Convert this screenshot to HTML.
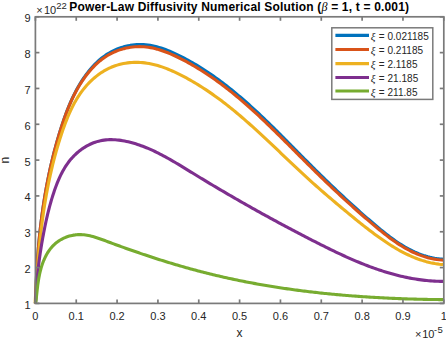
<!DOCTYPE html>
<html><head><meta charset="utf-8"><style>
html,body{margin:0;padding:0;background:#fff;}
body{width:446px;height:339px;overflow:hidden;}
svg{display:block;}
text{font-family:"Liberation Sans",sans-serif;fill:#262626;}
.tk text{font-size:11px;}
.lt{font-size:10px;}
.xi{font-family:"Liberation Serif",serif;font-style:italic;font-size:11px;}
</style></head><body>
<svg width="446" height="339" viewBox="0 0 446 339">
<rect x="0" y="0" width="446" height="339" fill="#fff"/>
<g fill="none" stroke-width="3.1" stroke-linejoin="round" stroke-linecap="butt">
<path d="M35.40,303.40 L35.60,301.16 L35.66,298.88 L35.72,296.60 L35.78,294.32 L35.85,292.05 L35.93,289.77 L36.01,287.49 L36.10,285.21 L36.20,282.93 L36.29,280.66 L36.40,278.38 L36.51,276.10 L36.63,273.83 L36.75,271.55 L36.88,269.27 L37.01,267.00 L37.16,264.72 L37.30,262.45 L37.46,260.18 L37.62,257.90 L37.78,255.63 L37.96,253.36 L38.14,251.09 L38.33,248.82 L38.52,246.55 L38.72,244.28 L38.93,242.02 L39.15,239.75 L39.37,237.48 L39.60,235.22 L39.84,232.96 L40.08,230.69 L40.34,228.43 L40.60,226.17 L40.87,223.91 L41.14,221.65 L41.43,219.40 L41.72,217.14 L42.02,214.89 L42.33,212.63 L42.64,210.38 L42.97,208.13 L43.30,205.88 L43.64,203.64 L44.00,201.39 L44.35,199.15 L44.72,196.91 L45.10,194.67 L45.49,192.43 L45.88,190.19 L46.28,187.95 L46.70,185.72 L47.12,183.49 L47.55,181.26 L47.99,179.03 L48.44,176.80 L48.90,174.58 L49.37,172.36 L49.85,170.14 L50.34,167.92 L50.84,165.70 L51.35,163.49 L51.87,161.27 L52.40,159.06 L52.94,156.86 L53.49,154.65 L54.05,152.45 L54.63,150.25 L55.21,148.05 L55.80,145.85 L56.40,143.66 L57.02,141.47 L57.64,139.28 L58.28,137.10 L58.93,134.91 L59.59,132.73 L60.26,130.56 L60.94,128.38 L61.63,126.21 L62.34,124.04 L63.06,121.88 L63.79,119.72 L64.54,117.56 L65.31,115.41 L66.10,113.27 L66.90,111.14 L67.73,109.01 L68.58,106.89 L69.45,104.78 L70.35,102.68 L71.27,100.59 L72.22,98.51 L73.20,96.45 L74.20,94.39 L75.24,92.35 L76.30,90.32 L77.40,88.31 L78.53,86.31 L79.70,84.32 L80.90,82.35 L82.14,80.40 L83.42,78.47 L84.73,76.56 L86.09,74.68 L87.48,72.84 L88.90,71.02 L90.37,69.24 L91.88,67.50 L93.42,65.80 L95.01,64.15 L96.64,62.55 L98.31,61.00 L100.02,59.51 L101.77,58.07 L103.56,56.70 L105.40,55.39 L107.27,54.15 L109.20,52.98 L111.16,51.88 L113.16,50.86 L115.19,49.91 L117.26,49.04 L119.35,48.24 L121.48,47.51 L123.62,46.87 L125.79,46.30 L127.98,45.81 L130.18,45.40 L132.39,45.07 L134.61,44.82 L136.84,44.65 L139.07,44.57 L141.30,44.56 L143.53,44.64 L145.76,44.81 L147.97,45.06 L150.19,45.39 L152.39,45.79 L154.59,46.26 L156.77,46.80 L158.95,47.41 L161.12,48.07 L163.28,48.79 L165.44,49.56 L167.58,50.38 L169.71,51.25 L171.82,52.15 L173.93,53.09 L176.03,54.07 L178.11,55.07 L180.18,56.09 L182.24,57.14 L184.28,58.21 L186.31,59.29 L188.32,60.39 L190.33,61.50 L192.32,62.64 L194.30,63.79 L196.26,64.95 L198.22,66.13 L200.16,67.33 L202.09,68.54 L204.01,69.77 L205.92,71.01 L207.81,72.27 L209.70,73.54 L211.58,74.83 L213.44,76.13 L215.29,77.44 L217.14,78.76 L218.97,80.10 L220.80,81.45 L222.62,82.81 L224.42,84.19 L226.22,85.57 L228.01,86.97 L229.79,88.38 L231.56,89.80 L233.32,91.23 L235.08,92.67 L236.83,94.12 L238.57,95.58 L240.30,97.05 L242.02,98.53 L243.74,100.01 L245.46,101.51 L247.16,103.01 L248.86,104.53 L250.55,106.04 L252.24,107.57 L253.92,109.11 L255.60,110.65 L257.27,112.20 L258.93,113.75 L260.59,115.31 L262.25,116.88 L263.90,118.45 L265.55,120.03 L267.19,121.61 L268.83,123.19 L270.46,124.79 L272.09,126.38 L273.72,127.98 L275.35,129.58 L276.97,131.19 L278.59,132.80 L280.21,134.41 L281.82,136.02 L283.43,137.64 L285.05,139.26 L286.66,140.88 L288.26,142.50 L289.87,144.12 L291.48,145.74 L293.08,147.37 L294.69,148.99 L296.29,150.61 L297.89,152.23 L299.50,153.86 L301.10,155.48 L302.71,157.10 L304.31,158.72 L305.92,160.33 L307.52,161.95 L309.13,163.56 L310.74,165.17 L312.35,166.78 L313.97,168.38 L315.58,169.99 L317.20,171.58 L318.82,173.18 L320.44,174.77 L322.06,176.36 L323.68,177.95 L325.31,179.54 L326.94,181.12 L328.57,182.70 L330.21,184.27 L331.85,185.84 L333.49,187.41 L335.13,188.98 L336.78,190.54 L338.43,192.10 L340.08,193.65 L341.74,195.20 L343.40,196.75 L345.06,198.30 L346.73,199.84 L348.40,201.38 L350.08,202.91 L351.76,204.44 L353.44,205.97 L355.13,207.49 L356.82,209.01 L358.52,210.53 L360.22,212.04 L361.92,213.55 L363.63,215.05 L365.35,216.56 L367.07,218.05 L368.79,219.54 L370.52,221.03 L372.26,222.52 L374.00,224.00 L375.75,225.47 L377.50,226.94 L379.26,228.41 L381.02,229.86 L382.80,231.30 L384.58,232.73 L386.38,234.15 L388.18,235.54 L390.00,236.92 L391.83,238.27 L393.67,239.60 L395.53,240.91 L397.40,242.19 L399.29,243.44 L401.19,244.65 L403.12,245.84 L405.06,246.98 L407.02,248.09 L408.99,249.16 L411.00,250.19 L413.02,251.18 L415.06,252.12 L417.13,253.01 L419.22,253.85 L421.34,254.64 L423.48,255.37 L425.65,256.05 L427.85,256.67 L430.07,257.24 L432.33,257.74 L434.61,258.17 L436.92,258.54 L439.27,258.85 L441.65,259.08 L443.80,259.30" stroke="#0072BD" />
<path d="M35.40,303.40 L35.59,301.18 L35.65,298.91 L35.71,296.63 L35.78,294.36 L35.85,292.09 L35.93,289.81 L36.01,287.54 L36.10,285.27 L36.19,283.00 L36.29,280.72 L36.40,278.45 L36.51,276.18 L36.63,273.91 L36.75,271.64 L36.88,269.38 L37.01,267.11 L37.15,264.84 L37.30,262.57 L37.45,260.31 L37.61,258.04 L37.78,255.78 L37.95,253.51 L38.13,251.25 L38.32,248.99 L38.51,246.73 L38.71,244.47 L38.92,242.21 L39.13,239.95 L39.36,237.69 L39.58,235.44 L39.82,233.18 L40.06,230.93 L40.32,228.67 L40.57,226.42 L40.84,224.17 L41.12,221.92 L41.40,219.67 L41.69,217.43 L41.99,215.18 L42.29,212.94 L42.61,210.69 L42.93,208.45 L43.26,206.21 L43.60,203.97 L43.95,201.73 L44.31,199.50 L44.67,197.27 L45.05,195.03 L45.43,192.80 L45.83,190.57 L46.23,188.34 L46.64,186.12 L47.06,183.89 L47.49,181.67 L47.93,179.45 L48.38,177.23 L48.83,175.02 L49.30,172.80 L49.78,170.59 L50.27,168.38 L50.77,166.17 L51.27,163.96 L51.79,161.76 L52.32,159.55 L52.86,157.35 L53.40,155.15 L53.96,152.96 L54.53,150.76 L55.11,148.57 L55.70,146.38 L56.31,144.19 L56.92,142.01 L57.54,139.82 L58.18,137.64 L58.82,135.46 L59.48,133.29 L60.15,131.12 L60.83,128.94 L61.52,126.78 L62.22,124.61 L62.94,122.45 L63.67,120.29 L64.42,118.14 L65.19,116.00 L65.97,113.86 L66.78,111.73 L67.61,109.61 L68.46,107.50 L69.33,105.39 L70.23,103.30 L71.15,101.22 L72.10,99.15 L73.08,97.09 L74.09,95.05 L75.13,93.02 L76.21,91.00 L77.31,89.00 L78.45,87.02 L79.63,85.06 L80.85,83.11 L82.10,81.18 L83.39,79.27 L84.72,77.39 L86.08,75.54 L87.49,73.72 L88.94,71.93 L90.42,70.18 L91.95,68.48 L93.51,66.82 L95.12,65.20 L96.77,63.64 L98.45,62.13 L100.18,60.68 L101.95,59.28 L103.76,57.95 L105.62,56.69 L107.51,55.50 L109.45,54.38 L111.43,53.33 L113.44,52.36 L115.49,51.46 L117.57,50.64 L119.67,49.89 L121.80,49.22 L123.96,48.62 L126.13,48.10 L128.32,47.66 L130.53,47.30 L132.74,47.02 L134.96,46.81 L137.19,46.69 L139.42,46.64 L141.65,46.68 L143.88,46.80 L146.10,47.00 L148.31,47.28 L150.52,47.64 L152.71,48.07 L154.90,48.57 L157.08,49.13 L159.25,49.75 L161.41,50.43 L163.56,51.17 L165.70,51.95 L167.83,52.78 L169.95,53.66 L172.06,54.57 L174.16,55.52 L176.24,56.49 L178.31,57.50 L180.37,58.53 L182.42,59.58 L184.45,60.64 L186.47,61.73 L188.47,62.83 L190.47,63.94 L192.45,65.08 L194.42,66.23 L196.38,67.39 L198.32,68.57 L200.26,69.77 L202.18,70.98 L204.09,72.21 L205.99,73.45 L207.88,74.70 L209.76,75.97 L211.63,77.25 L213.49,78.54 L215.33,79.85 L217.17,81.17 L219.00,82.51 L220.82,83.85 L222.63,85.21 L224.43,86.58 L226.22,87.96 L228.01,89.35 L229.78,90.75 L231.55,92.16 L233.31,93.59 L235.06,95.02 L236.81,96.46 L238.54,97.92 L240.27,99.38 L241.99,100.85 L243.71,102.33 L245.42,103.81 L247.12,105.31 L248.82,106.81 L250.51,108.32 L252.19,109.84 L253.87,111.37 L255.55,112.90 L257.22,114.44 L258.88,115.98 L260.54,117.53 L262.19,119.09 L263.84,120.65 L265.49,122.21 L267.13,123.79 L268.77,125.36 L270.40,126.94 L272.04,128.53 L273.66,130.11 L275.29,131.70 L276.91,133.30 L278.53,134.90 L280.15,136.50 L281.77,138.10 L283.38,139.70 L284.99,141.31 L286.60,142.91 L288.21,144.52 L289.82,146.13 L291.43,147.74 L293.03,149.35 L294.64,150.96 L296.25,152.57 L297.85,154.18 L299.46,155.79 L301.06,157.40 L302.67,159.01 L304.28,160.62 L305.88,162.22 L307.49,163.82 L309.10,165.42 L310.72,167.02 L312.33,168.61 L313.94,170.20 L315.56,171.79 L317.18,173.38 L318.80,174.96 L320.43,176.54 L322.05,178.12 L323.68,179.69 L325.31,181.26 L326.94,182.83 L328.58,184.40 L330.22,185.96 L331.86,187.52 L333.50,189.07 L335.15,190.62 L336.80,192.17 L338.45,193.72 L340.11,195.26 L341.77,196.80 L343.43,198.34 L345.10,199.87 L346.77,201.40 L348.44,202.92 L350.12,204.44 L351.80,205.96 L353.49,207.47 L355.18,208.98 L356.87,210.49 L358.57,211.99 L360.27,213.49 L361.98,214.99 L363.69,216.48 L365.41,217.96 L367.13,219.45 L368.86,220.93 L370.59,222.40 L372.33,223.87 L374.07,225.34 L375.82,226.80 L377.57,228.26 L379.33,229.71 L381.10,231.15 L382.87,232.58 L384.66,233.99 L386.45,235.39 L388.26,236.78 L390.08,238.14 L391.91,239.48 L393.75,240.80 L395.61,242.09 L397.48,243.35 L399.37,244.59 L401.27,245.79 L403.19,246.96 L405.13,248.10 L407.09,249.19 L409.07,250.25 L411.06,251.27 L413.08,252.24 L415.13,253.16 L417.19,254.04 L419.28,254.87 L421.39,255.65 L423.53,256.37 L425.70,257.04 L427.89,257.65 L430.11,258.20 L432.36,258.69 L434.63,259.12 L436.94,259.48 L439.28,259.77 L441.65,260.00 L443.80,260.20" stroke="#D95319" />
<path d="M35.40,303.40 L35.20,301.31 L35.34,299.09 L35.48,296.86 L35.62,294.64 L35.76,292.42 L35.90,290.20 L36.05,287.98 L36.19,285.77 L36.34,283.55 L36.49,281.34 L36.65,279.13 L36.81,276.92 L36.97,274.71 L37.13,272.51 L37.30,270.30 L37.47,268.10 L37.64,265.90 L37.82,263.70 L38.00,261.50 L38.19,259.31 L38.38,257.11 L38.57,254.92 L38.77,252.73 L38.98,250.54 L39.19,248.35 L39.40,246.16 L39.62,243.98 L39.84,241.79 L40.07,239.61 L40.31,237.43 L40.55,235.25 L40.80,233.07 L41.05,230.89 L41.31,228.72 L41.58,226.54 L41.85,224.37 L42.13,222.20 L42.42,220.03 L42.72,217.86 L43.02,215.69 L43.33,213.52 L43.64,211.36 L43.97,209.19 L44.30,207.03 L44.64,204.87 L44.99,202.70 L45.35,200.55 L45.71,198.39 L46.09,196.23 L46.47,194.07 L46.87,191.92 L47.27,189.76 L47.68,187.61 L48.10,185.46 L48.53,183.31 L48.97,181.16 L49.42,179.01 L49.88,176.86 L50.35,174.72 L50.84,172.57 L51.33,170.43 L51.83,168.28 L52.35,166.14 L52.87,164.00 L53.41,161.86 L53.96,159.72 L54.52,157.58 L55.09,155.44 L55.67,153.30 L56.27,151.17 L56.87,149.03 L57.49,146.90 L58.13,144.76 L58.77,142.63 L59.43,140.50 L60.10,138.37 L60.79,136.24 L61.49,134.11 L62.20,131.98 L62.92,129.85 L63.67,127.73 L64.43,125.61 L65.21,123.50 L66.01,121.40 L66.83,119.31 L67.68,117.22 L68.55,115.16 L69.45,113.10 L70.37,111.06 L71.33,109.04 L72.31,107.04 L73.33,105.06 L74.37,103.10 L75.46,101.17 L76.58,99.26 L77.74,97.38 L78.93,95.52 L80.17,93.70 L81.45,91.90 L82.77,90.14 L84.13,88.41 L85.54,86.72 L86.99,85.07 L88.48,83.46 L90.01,81.90 L91.58,80.38 L93.19,78.90 L94.83,77.48 L96.52,76.11 L98.24,74.79 L99.99,73.53 L101.78,72.33 L103.60,71.20 L105.45,70.12 L107.34,69.11 L109.25,68.17 L111.20,67.30 L113.17,66.50 L115.17,65.77 L117.19,65.12 L119.24,64.53 L121.31,64.02 L123.40,63.57 L125.50,63.20 L127.62,62.89 L129.75,62.66 L131.89,62.49 L134.04,62.38 L136.20,62.35 L138.36,62.38 L140.52,62.48 L142.69,62.64 L144.85,62.87 L147.01,63.17 L149.16,63.52 L151.30,63.94 L153.44,64.42 L155.57,64.96 L157.70,65.55 L159.81,66.19 L161.92,66.88 L164.02,67.61 L166.11,68.39 L168.18,69.21 L170.25,70.07 L172.31,70.96 L174.35,71.88 L176.39,72.83 L178.41,73.81 L180.42,74.82 L182.42,75.84 L184.40,76.88 L186.37,77.95 L188.33,79.02 L190.27,80.11 L192.20,81.22 L194.12,82.35 L196.03,83.49 L197.93,84.64 L199.81,85.81 L201.68,86.99 L203.54,88.19 L205.39,89.40 L207.23,90.62 L209.06,91.86 L210.88,93.11 L212.68,94.37 L214.48,95.65 L216.27,96.93 L218.05,98.23 L219.82,99.54 L221.58,100.86 L223.33,102.19 L225.08,103.54 L226.81,104.89 L228.54,106.25 L230.26,107.62 L231.97,109.00 L233.68,110.39 L235.38,111.79 L237.07,113.20 L238.75,114.61 L240.43,116.04 L242.10,117.47 L243.77,118.90 L245.43,120.35 L247.08,121.80 L248.74,123.26 L250.38,124.72 L252.02,126.19 L253.66,127.66 L255.29,129.14 L256.92,130.62 L258.54,132.11 L260.16,133.61 L261.78,135.10 L263.39,136.60 L265.01,138.11 L266.62,139.61 L268.22,141.12 L269.83,142.64 L271.43,144.15 L273.03,145.67 L274.63,147.18 L276.23,148.70 L277.83,150.22 L279.42,151.74 L281.02,153.26 L282.62,154.79 L284.21,156.31 L285.81,157.83 L287.41,159.35 L289.01,160.86 L290.60,162.38 L292.20,163.90 L293.81,165.41 L295.41,166.92 L297.01,168.43 L298.62,169.93 L300.23,171.44 L301.84,172.94 L303.46,174.43 L305.07,175.92 L306.70,177.41 L308.32,178.89 L309.95,180.37 L311.58,181.84 L313.22,183.31 L314.86,184.77 L316.50,186.23 L318.15,187.68 L319.80,189.13 L321.45,190.58 L323.11,192.02 L324.77,193.46 L326.43,194.89 L328.10,196.33 L329.77,197.76 L331.44,199.18 L333.12,200.61 L334.80,202.03 L336.48,203.45 L338.17,204.87 L339.85,206.28 L341.54,207.70 L343.24,209.11 L344.93,210.52 L346.63,211.93 L348.33,213.34 L350.03,214.74 L351.74,216.14 L353.45,217.54 L355.17,218.94 L356.88,220.33 L358.61,221.72 L360.33,223.10 L362.07,224.48 L363.80,225.85 L365.55,227.21 L367.30,228.57 L369.05,229.92 L370.81,231.25 L372.58,232.59 L374.35,233.91 L376.13,235.22 L377.92,236.52 L379.72,237.81 L381.52,239.08 L383.34,240.34 L385.16,241.59 L386.99,242.81 L388.83,244.02 L390.69,245.21 L392.55,246.38 L394.42,247.52 L396.31,248.64 L398.21,249.73 L400.12,250.80 L402.04,251.84 L403.98,252.85 L405.93,253.83 L407.89,254.77 L409.87,255.69 L411.87,256.56 L413.88,257.41 L415.90,258.21 L417.94,258.98 L420.00,259.70 L422.08,260.39 L424.17,261.03 L426.28,261.63 L428.41,262.18 L430.56,262.69 L432.73,263.14 L434.92,263.55 L437.12,263.91 L439.35,264.22 L441.60,264.47 L443.80,264.30" stroke="#EDB120" />
<path d="M35.40,303.40 L35.53,301.55 L35.62,299.66 L35.71,297.78 L35.81,295.89 L35.92,294.00 L36.04,292.12 L36.17,290.24 L36.30,288.35 L36.44,286.47 L36.59,284.59 L36.75,282.72 L36.91,280.84 L37.08,278.97 L37.26,277.09 L37.45,275.22 L37.65,273.35 L37.85,271.48 L38.06,269.61 L38.27,267.74 L38.50,265.88 L38.73,264.01 L38.97,262.15 L39.21,260.29 L39.47,258.43 L39.73,256.57 L39.99,254.71 L40.27,252.86 L40.55,251.00 L40.84,249.15 L41.13,247.30 L41.44,245.45 L41.74,243.60 L42.06,241.75 L42.38,239.91 L42.71,238.06 L43.05,236.22 L43.39,234.38 L43.74,232.54 L44.09,230.70 L44.46,228.86 L44.82,227.03 L45.20,225.19 L45.58,223.36 L45.98,221.53 L46.38,219.70 L46.79,217.87 L47.21,216.04 L47.64,214.22 L48.09,212.39 L48.54,210.57 L49.01,208.75 L49.49,206.93 L49.98,205.11 L50.48,203.29 L51.00,201.48 L51.53,199.66 L52.08,197.85 L52.65,196.04 L53.23,194.23 L53.82,192.42 L54.44,190.62 L55.07,188.81 L55.72,187.01 L56.39,185.22 L57.08,183.43 L57.80,181.65 L58.54,179.89 L59.31,178.14 L60.11,176.40 L60.94,174.68 L61.80,172.98 L62.69,171.31 L63.62,169.65 L64.58,168.02 L65.58,166.42 L66.62,164.84 L67.70,163.30 L68.82,161.79 L69.98,160.31 L71.19,158.87 L72.44,157.47 L73.73,156.11 L75.05,154.78 L76.42,153.51 L77.82,152.27 L79.25,151.09 L80.72,149.95 L82.22,148.86 L83.75,147.83 L85.31,146.85 L86.90,145.92 L88.52,145.05 L90.17,144.24 L91.84,143.49 L93.53,142.81 L95.24,142.18 L96.98,141.63 L98.74,141.14 L100.51,140.72 L102.31,140.37 L104.11,140.10 L105.94,139.89 L107.77,139.75 L109.62,139.67 L111.48,139.65 L113.34,139.70 L115.21,139.80 L117.09,139.95 L118.96,140.15 L120.84,140.41 L122.72,140.70 L124.59,141.05 L126.46,141.43 L128.32,141.85 L130.18,142.31 L132.02,142.80 L133.86,143.32 L135.68,143.86 L137.49,144.44 L139.28,145.04 L141.07,145.67 L142.84,146.32 L144.60,147.00 L146.35,147.70 L148.09,148.42 L149.82,149.16 L151.54,149.93 L153.26,150.71 L154.96,151.51 L156.65,152.33 L158.34,153.16 L160.02,154.01 L161.69,154.88 L163.35,155.76 L165.01,156.65 L166.67,157.56 L168.31,158.48 L169.95,159.41 L171.59,160.35 L173.22,161.29 L174.85,162.25 L176.47,163.21 L178.10,164.18 L179.71,165.16 L181.33,166.14 L182.94,167.12 L184.55,168.11 L186.16,169.09 L187.77,170.08 L189.38,171.07 L190.99,172.06 L192.60,173.05 L194.21,174.04 L195.82,175.02 L197.43,176.01 L199.04,176.99 L200.65,177.96 L202.26,178.94 L203.88,179.92 L205.49,180.89 L207.10,181.86 L208.72,182.83 L210.33,183.80 L211.95,184.76 L213.56,185.72 L215.18,186.68 L216.80,187.64 L218.42,188.60 L220.03,189.56 L221.65,190.51 L223.27,191.46 L224.90,192.41 L226.52,193.36 L228.14,194.31 L229.76,195.25 L231.39,196.20 L233.01,197.14 L234.64,198.08 L236.26,199.01 L237.89,199.95 L239.52,200.88 L241.15,201.81 L242.78,202.74 L244.41,203.67 L246.04,204.60 L247.67,205.52 L249.31,206.45 L250.94,207.37 L252.58,208.29 L254.21,209.20 L255.85,210.12 L257.49,211.04 L259.13,211.95 L260.77,212.86 L262.41,213.77 L264.05,214.67 L265.70,215.58 L267.34,216.48 L268.99,217.39 L270.63,218.29 L272.28,219.19 L273.93,220.08 L275.58,220.98 L277.23,221.87 L278.89,222.76 L280.54,223.66 L282.19,224.54 L283.85,225.43 L285.51,226.32 L287.17,227.20 L288.83,228.08 L290.49,228.96 L292.15,229.84 L293.81,230.72 L295.48,231.60 L297.14,232.47 L298.81,233.34 L300.48,234.21 L302.15,235.08 L303.82,235.95 L305.49,236.82 L307.17,237.68 L308.84,238.55 L310.52,239.41 L312.20,240.27 L313.88,241.13 L315.56,241.98 L317.24,242.84 L318.93,243.69 L320.61,244.54 L322.30,245.39 L323.99,246.23 L325.68,247.07 L327.38,247.91 L329.07,248.75 L330.77,249.57 L332.47,250.40 L334.17,251.22 L335.87,252.03 L337.58,252.84 L339.29,253.65 L341.00,254.45 L342.71,255.24 L344.42,256.03 L346.14,256.80 L347.86,257.58 L349.58,258.34 L351.31,259.10 L353.03,259.85 L354.76,260.59 L356.50,261.33 L358.23,262.05 L359.97,262.77 L361.71,263.47 L363.46,264.17 L365.20,264.86 L366.96,265.54 L368.71,266.21 L370.47,266.86 L372.23,267.51 L373.99,268.15 L375.76,268.77 L377.53,269.38 L379.30,269.98 L381.08,270.57 L382.86,271.15 L384.65,271.71 L386.43,272.26 L388.23,272.80 L390.02,273.32 L391.82,273.84 L393.63,274.33 L395.43,274.81 L397.24,275.28 L399.06,275.73 L400.88,276.17 L402.70,276.59 L404.53,277.00 L406.37,277.39 L408.20,277.76 L410.04,278.12 L411.89,278.46 L413.74,278.78 L415.59,279.09 L417.45,279.38 L419.32,279.65 L421.19,279.90 L423.06,280.14 L424.94,280.35 L426.82,280.55 L428.71,280.72 L430.60,280.88 L432.50,281.02 L434.41,281.14 L436.31,281.23 L438.23,281.31 L440.15,281.37 L442.07,281.40 L443.80,281.20" stroke="#7E2F8E" />
<path d="M35.40,303.40 L35.89,301.65 L36.05,300.30 L36.21,298.91 L36.37,297.50 L36.53,296.06 L36.69,294.59 L36.84,293.11 L37.01,291.60 L37.17,290.08 L37.35,288.54 L37.54,286.99 L37.73,285.43 L37.94,283.85 L38.17,282.27 L38.41,280.68 L38.67,279.08 L38.94,277.49 L39.25,275.89 L39.57,274.29 L39.92,272.69 L40.30,271.10 L40.71,269.52 L41.15,267.94 L41.62,266.38 L42.12,264.83 L42.65,263.29 L43.22,261.77 L43.82,260.28 L44.46,258.80 L45.13,257.36 L45.84,255.94 L46.58,254.55 L47.37,253.19 L48.19,251.87 L49.05,250.58 L49.95,249.34 L50.88,248.14 L51.87,246.98 L52.89,245.87 L53.95,244.81 L55.05,243.80 L56.20,242.84 L57.37,241.93 L58.59,241.08 L59.83,240.27 L61.11,239.52 L62.41,238.81 L63.74,238.17 L65.09,237.57 L66.47,237.03 L67.87,236.54 L69.28,236.10 L70.71,235.72 L72.16,235.40 L73.62,235.13 L75.09,234.91 L76.56,234.75 L78.05,234.65 L79.54,234.61 L81.03,234.62 L82.52,234.69 L84.01,234.81 L85.50,234.99 L86.99,235.22 L88.48,235.50 L89.97,235.81 L91.46,236.17 L92.94,236.56 L94.43,236.98 L95.92,237.44 L97.40,237.91 L98.89,238.41 L100.37,238.93 L101.85,239.46 L103.34,240.01 L104.82,240.56 L106.30,241.12 L107.79,241.68 L109.27,242.23 L110.75,242.78 L112.23,243.34 L113.71,243.88 L115.19,244.43 L116.67,244.97 L118.15,245.52 L119.63,246.06 L121.11,246.59 L122.59,247.13 L124.07,247.66 L125.55,248.19 L127.03,248.72 L128.50,249.24 L129.98,249.76 L131.46,250.28 L132.94,250.80 L134.41,251.31 L135.89,251.83 L137.37,252.34 L138.85,252.84 L140.33,253.35 L141.80,253.85 L143.28,254.35 L144.76,254.84 L146.24,255.34 L147.71,255.83 L149.19,256.32 L150.67,256.81 L152.15,257.29 L153.63,257.77 L155.10,258.25 L156.58,258.72 L158.06,259.20 L159.54,259.67 L161.02,260.13 L162.50,260.60 L163.98,261.06 L165.46,261.52 L166.94,261.98 L168.42,262.43 L169.90,262.88 L171.38,263.33 L172.87,263.77 L174.35,264.22 L175.83,264.65 L177.31,265.09 L178.80,265.53 L180.28,265.96 L181.77,266.38 L183.25,266.81 L184.74,267.23 L186.22,267.65 L187.71,268.07 L189.20,268.48 L190.69,268.89 L192.18,269.30 L193.66,269.70 L195.15,270.10 L196.65,270.50 L198.14,270.90 L199.63,271.29 L201.12,271.68 L202.62,272.07 L204.11,272.45 L205.61,272.83 L207.10,273.21 L208.60,273.58 L210.10,273.95 L211.60,274.32 L213.10,274.69 L214.60,275.05 L216.10,275.41 L217.60,275.76 L219.10,276.11 L220.61,276.46 L222.11,276.81 L223.62,277.15 L225.13,277.49 L226.64,277.83 L228.15,278.16 L229.66,278.49 L231.17,278.82 L232.68,279.14 L234.19,279.46 L235.70,279.78 L237.22,280.10 L238.73,280.41 L240.25,280.72 L241.77,281.02 L243.29,281.32 L244.80,281.62 L246.32,281.92 L247.84,282.22 L249.36,282.51 L250.89,282.80 L252.41,283.08 L253.93,283.36 L255.45,283.64 L256.98,283.92 L258.50,284.19 L260.03,284.46 L261.56,284.73 L263.08,285.00 L264.61,285.26 L266.14,285.52 L267.67,285.78 L269.20,286.03 L270.73,286.28 L272.26,286.53 L273.79,286.78 L275.32,287.02 L276.86,287.26 L278.39,287.50 L279.92,287.73 L281.46,287.96 L282.99,288.19 L284.53,288.42 L286.07,288.64 L287.60,288.86 L289.14,289.08 L290.68,289.30 L292.22,289.51 L293.75,289.72 L295.29,289.93 L296.83,290.14 L298.37,290.34 L299.91,290.54 L301.45,290.74 L302.99,290.94 L304.54,291.13 L306.08,291.32 L307.62,291.51 L309.16,291.69 L310.71,291.88 L312.25,292.06 L313.79,292.24 L315.34,292.41 L316.88,292.58 L318.43,292.76 L319.97,292.92 L321.52,293.09 L323.06,293.25 L324.61,293.42 L326.16,293.57 L327.70,293.73 L329.25,293.89 L330.80,294.04 L332.34,294.19 L333.89,294.33 L335.44,294.48 L336.98,294.62 L338.53,294.76 L340.08,294.90 L341.63,295.04 L343.18,295.17 L344.73,295.30 L346.27,295.43 L347.82,295.56 L349.37,295.68 L350.92,295.81 L352.47,295.93 L354.02,296.05 L355.57,296.16 L357.12,296.28 L358.67,296.39 L360.22,296.50 L361.76,296.61 L363.31,296.71 L364.86,296.82 L366.41,296.92 L367.96,297.02 L369.51,297.12 L371.06,297.21 L372.61,297.30 L374.16,297.40 L375.71,297.49 L377.26,297.57 L378.81,297.66 L380.35,297.74 L381.90,297.82 L383.45,297.90 L385.00,297.98 L386.55,298.06 L388.10,298.13 L389.64,298.20 L391.19,298.27 L392.74,298.34 L394.29,298.41 L395.83,298.47 L397.38,298.54 L398.93,298.60 L400.47,298.66 L402.02,298.72 L403.57,298.77 L405.11,298.83 L406.66,298.88 L408.20,298.93 L409.75,298.98 L411.29,299.02 L412.84,299.07 L414.38,299.11 L415.93,299.15 L417.47,299.19 L419.01,299.23 L420.56,299.27 L422.10,299.31 L423.64,299.34 L425.18,299.37 L426.72,299.40 L428.26,299.43 L429.80,299.46 L431.34,299.48 L432.88,299.51 L434.42,299.53 L435.96,299.55 L437.50,299.57 L439.04,299.59 L440.57,299.60 L442.11,299.62 L443.80,299.50" stroke="#77AC30" />
</g>
<g stroke="#7a7a7a" stroke-width="1.7" fill="none"><line x1="35.40" y1="303.4" x2="35.40" y2="299.4"/><line x1="35.40" y1="16.8" x2="35.40" y2="20.8"/><line x1="76.24" y1="303.4" x2="76.24" y2="299.4"/><line x1="76.24" y1="16.8" x2="76.24" y2="20.8"/><line x1="117.08" y1="303.4" x2="117.08" y2="299.4"/><line x1="117.08" y1="16.8" x2="117.08" y2="20.8"/><line x1="157.92" y1="303.4" x2="157.92" y2="299.4"/><line x1="157.92" y1="16.8" x2="157.92" y2="20.8"/><line x1="198.76" y1="303.4" x2="198.76" y2="299.4"/><line x1="198.76" y1="16.8" x2="198.76" y2="20.8"/><line x1="239.60" y1="303.4" x2="239.60" y2="299.4"/><line x1="239.60" y1="16.8" x2="239.60" y2="20.8"/><line x1="280.44" y1="303.4" x2="280.44" y2="299.4"/><line x1="280.44" y1="16.8" x2="280.44" y2="20.8"/><line x1="321.28" y1="303.4" x2="321.28" y2="299.4"/><line x1="321.28" y1="16.8" x2="321.28" y2="20.8"/><line x1="362.12" y1="303.4" x2="362.12" y2="299.4"/><line x1="362.12" y1="16.8" x2="362.12" y2="20.8"/><line x1="402.96" y1="303.4" x2="402.96" y2="299.4"/><line x1="402.96" y1="16.8" x2="402.96" y2="20.8"/><line x1="443.80" y1="303.4" x2="443.80" y2="299.4"/><line x1="443.80" y1="16.8" x2="443.80" y2="20.8"/><line x1="35.4" y1="303.40" x2="39.4" y2="303.40"/><line x1="443.8" y1="303.40" x2="439.8" y2="303.40"/><line x1="35.4" y1="267.57" x2="39.4" y2="267.57"/><line x1="443.8" y1="267.57" x2="439.8" y2="267.57"/><line x1="35.4" y1="231.75" x2="39.4" y2="231.75"/><line x1="443.8" y1="231.75" x2="439.8" y2="231.75"/><line x1="35.4" y1="195.92" x2="39.4" y2="195.92"/><line x1="443.8" y1="195.92" x2="439.8" y2="195.92"/><line x1="35.4" y1="160.10" x2="39.4" y2="160.10"/><line x1="443.8" y1="160.10" x2="439.8" y2="160.10"/><line x1="35.4" y1="124.28" x2="39.4" y2="124.28"/><line x1="443.8" y1="124.28" x2="439.8" y2="124.28"/><line x1="35.4" y1="88.45" x2="39.4" y2="88.45"/><line x1="443.8" y1="88.45" x2="439.8" y2="88.45"/><line x1="35.4" y1="52.62" x2="39.4" y2="52.62"/><line x1="443.8" y1="52.62" x2="439.8" y2="52.62"/><line x1="35.4" y1="16.80" x2="39.4" y2="16.80"/><line x1="443.8" y1="16.80" x2="439.8" y2="16.80"/>
<rect x="35.4" y="16.8" width="408.40" height="286.60"/></g>
<g class="tk"><text x="35.40" y="319.5" text-anchor="middle">0</text><text x="76.24" y="319.5" text-anchor="middle">0.1</text><text x="117.08" y="319.5" text-anchor="middle">0.2</text><text x="157.92" y="319.5" text-anchor="middle">0.3</text><text x="198.76" y="319.5" text-anchor="middle">0.4</text><text x="239.60" y="319.5" text-anchor="middle">0.5</text><text x="280.44" y="319.5" text-anchor="middle">0.6</text><text x="321.28" y="319.5" text-anchor="middle">0.7</text><text x="362.12" y="319.5" text-anchor="middle">0.8</text><text x="402.96" y="319.5" text-anchor="middle">0.9</text><text x="443.80" y="319.5" text-anchor="middle">1</text><text x="30.5" y="308.90" text-anchor="end">1</text><text x="30.5" y="273.07" text-anchor="end">2</text><text x="30.5" y="237.25" text-anchor="end">3</text><text x="30.5" y="201.42" text-anchor="end">4</text><text x="30.5" y="165.60" text-anchor="end">5</text><text x="30.5" y="129.78" text-anchor="end">6</text><text x="30.5" y="93.95" text-anchor="end">7</text><text x="30.5" y="58.12" text-anchor="end">8</text><text x="30.5" y="22.30" text-anchor="end">9</text></g>
<text x="239.6" y="336.5" text-anchor="middle" font-size="12">x</text>
<text x="9.5" y="160.2" text-anchor="middle" font-size="12" transform="rotate(-90 9.5 160.2)">n</text>
<text x="414.9" y="337.6" font-size="11">&#215;</text><text x="422.2" y="337.6" font-size="11">10</text><text x="433.9" y="332.6" font-size="9">-</text><text x="437.4" y="332.6" font-size="9.5">5</text>
<text x="36.2" y="13.6" font-size="11">&#215;</text><text x="44.0" y="13.6" font-size="11">10</text><text x="56.2" y="8.9" font-size="9.5">22</text>
<text x="239.25" y="10.5" text-anchor="middle" font-size="12" font-weight="bold" letter-spacing="0.18" style="fill:#000">Power-Law Diffusivity Numerical Solution (<tspan font-family="Liberation Serif" font-style="italic" font-weight="normal" font-size="12">&#946;</tspan> = 1, t = 0.001)</text>
<rect x="331.8" y="27.8" width="101.0" height="71.60000000000001" fill="#fff" stroke="#7a7a7a" stroke-width="1.5"/><line x1="335.4" y1="35.40" x2="369.0" y2="35.40" stroke="#0072BD" stroke-width="3.1"/><text x="370.8" y="40.00" class="xi">&#958;</text><text x="378.7" y="40.00" class="lt">=</text><text x="387.4" y="40.00" class="lt" letter-spacing="0.06">0.021185</text><line x1="335.4" y1="49.50" x2="369.0" y2="49.50" stroke="#D95319" stroke-width="3.1"/><text x="370.8" y="54.10" class="xi">&#958;</text><text x="378.7" y="54.10" class="lt">=</text><text x="387.4" y="54.10" class="lt" letter-spacing="0.06">0.21185</text><line x1="335.4" y1="63.60" x2="369.0" y2="63.60" stroke="#EDB120" stroke-width="3.1"/><text x="370.8" y="68.20" class="xi">&#958;</text><text x="378.7" y="68.20" class="lt">=</text><text x="387.4" y="68.20" class="lt" letter-spacing="0.06">2.1185</text><line x1="335.4" y1="77.50" x2="369.0" y2="77.50" stroke="#7E2F8E" stroke-width="3.1"/><text x="370.8" y="82.10" class="xi">&#958;</text><text x="378.7" y="82.10" class="lt">=</text><text x="387.4" y="82.10" class="lt" letter-spacing="0.06">21.185</text><line x1="335.4" y1="91.00" x2="369.0" y2="91.00" stroke="#77AC30" stroke-width="3.1"/><text x="370.8" y="95.60" class="xi">&#958;</text><text x="378.7" y="95.60" class="lt">=</text><text x="387.4" y="95.60" class="lt" letter-spacing="0.06">211.85</text>
</svg>
</body></html>
